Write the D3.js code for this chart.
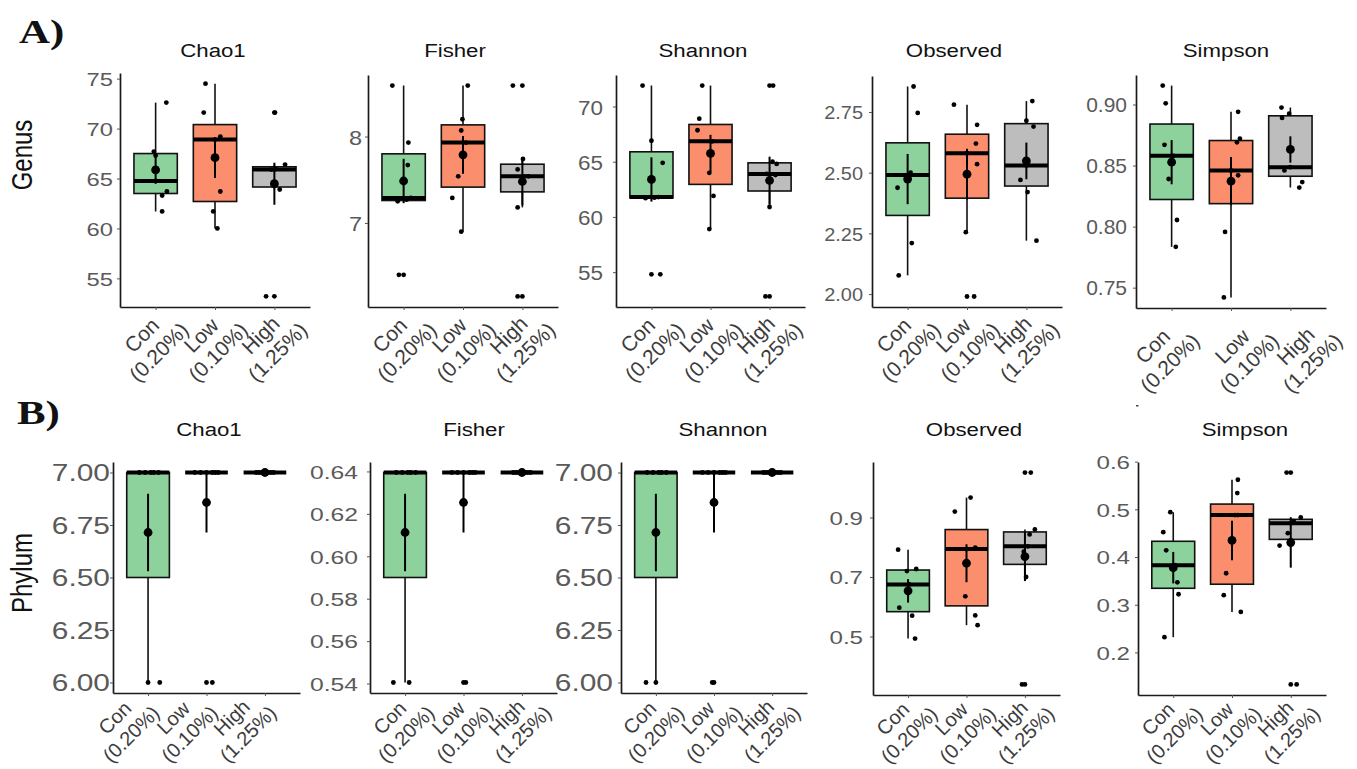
<!DOCTYPE html>
<html>
<head>
<meta charset="utf-8">
<script src="https://cdn.jsdelivr.net/npm/d3@7/dist/d3.min.js"></script>
<style>
  body { margin: 0; background: #fff; }
  svg { display: block; }
</style>
</head>
<body>
<div id="chart"></div>
<script>
const groups = ['Con', 'Low', 'High'];
const groupDoses = ['(0.20%)', '(0.10%)', '(1.25%)'];
const groupColors = ['#8dd29d', '#fb8e6c', '#bdbdbd'];

// seven samples per group
const genusChao1 = [
  [61.7, 63.3, 63.7, 64.75, 67.3, 67.7, 72.6],
  [60.0, 61.7, 63.7, 68.9, 69.2, 71.6, 74.5],
  [53.2, 63.9, 64.4, 65.9, 65.95, 66.4, 71.6],
];
const genusFisher = [
  [6.40, 7.25, 7.27, 7.29, 7.67, 7.93, 8.59],
  [6.90, 7.29, 7.54, 7.93, 8.07, 8.20, 8.59],
  [6.15, 7.18, 7.54, 7.54, 7.62, 7.74, 8.59],
];
const genusShannon = [
  [54.8, 61.7, 61.75, 61.8, 64.9, 66.9, 71.9],
  [58.9, 61.9, 64.0, 66.85, 67.85, 68.9, 71.9],
  [52.8, 60.9, 63.8, 63.9, 64.8, 65.0, 71.9],
];
const genusObserved = [
  [2.077, 2.21, 2.438, 2.49, 2.50, 2.746, 2.855],
  [1.99, 2.255, 2.535, 2.58, 2.62, 2.697, 2.78],
  [2.22, 2.42, 2.47, 2.53, 2.69, 2.714, 2.795],
];
const genusSimpson = [
  [0.7834, 0.8054, 0.839, 0.858, 0.867, 0.901, 0.9155],
  [0.742, 0.7956, 0.842, 0.846, 0.869, 0.872, 0.894],
  [0.832, 0.8365, 0.846, 0.8487, 0.889, 0.8925, 0.8975],
];
const phylumChao1 = [
  [6, 6, 7, 7, 7, 7, 7],
  [6, 7, 7, 7, 7, 7, 7],
  [7, 7, 7, 7, 7, 7, 7],
];
const phylumFisher = [
  [0.5405, 0.5405, 0.6395, 0.6395, 0.6395, 0.6395, 0.6395],
  [0.5405, 0.6395, 0.6395, 0.6395, 0.6395, 0.6395, 0.6395],
  [0.6395, 0.6395, 0.6395, 0.6395, 0.6395, 0.6395, 0.6395],
];
const phylumShannon = [
  [6, 6, 7, 7, 7, 7, 7],
  [6, 7, 7, 7, 7, 7, 7],
  [7, 7, 7, 7, 7, 7, 7],
];
const phylumObserved = [
  [0.493, 0.570, 0.597, 0.675, 0.720, 0.727, 0.792],
  [0.538, 0.571, 0.635, 0.794, 0.799, 0.920, 0.967],
  [0.339, 0.700, 0.785, 0.803, 0.843, 0.860, 1.051],
];
const phylumSimpson = [
  [0.232, 0.322, 0.347, 0.383, 0.414, 0.452, 0.494],
  [0.285, 0.320, 0.366, 0.488, 0.488, 0.534, 0.562],
  [0.133, 0.424, 0.450, 0.471, 0.475, 0.483, 0.577],
];

// horizontal jitter of each sample, in category steps
const genusChao1Jitter = [
  [0.11, 0.11, 0.19, 0.0, 0.0, -0.03, 0.18],
  [0.04, -0.03, 0.09, 0.0, 0.09, -0.19, -0.16],
  [-0.14, 0.09, 0.0, -0.05, 0.02, 0.18, 0.01],
];
const genusFisherJitter = [
  [-0.08, -0.1, 0.05, 0.12, 0.07, 0.08, -0.19],
  [-0.03, -0.18, -0.08, 0.05, -0.03, -0.01, 0.08],
  [-0.08, -0.08, 0.02, 0.1, -0.08, 0.01, -0.16],
];
const genusShannonJitter = [
  [0.15, -0.1, 0.05, 0.12, 0.19, 0.0, -0.15],
  [-0.02, 0.05, -0.02, 0.03, -0.22, -0.19, -0.14],
  [-0.07, 0.0, 0.1, -0.05, 0.12, 0.05, 0.06],
];
const genusObservedJitter = [
  [-0.15, 0.07, -0.17, 0.0, 0.05, 0.17, 0.1],
  [0.12, -0.02, 0.17, 0.0, 0.15, 0.17, -0.22],
  [0.17, 0.02, -0.1, 0.0, 0.12, 0.0, 0.1],
];
const genusSimpsonJitter = [
  [0.07, 0.09, -0.05, 0.03, -0.12, -0.1, -0.15],
  [-0.12, -0.1, 0.12, 0.0, 0.1, 0.15, 0.12],
  [0.15, 0.2, -0.1, 0.0, -0.14, -0.02, -0.15],
];
const phylumChao1Jitter = [
  [0.0, 0.2, -0.15, -0.05, 0.05, 0.1, 0.18],
  [0.1, -0.2, -0.1, 0.0, 0.1, 0.15, 0.2],
  [-0.15, -0.1, -0.05, 0.0, 0.05, 0.1, 0.15],
];
const phylumFisherJitter = [
  [-0.2, 0.07, -0.15, -0.05, 0.05, 0.1, 0.18],
  [0.04, -0.2, -0.1, 0.0, 0.1, 0.15, 0.2],
  [-0.15, -0.1, -0.05, 0.0, 0.05, 0.1, 0.15],
];
const phylumShannonJitter = [
  [-0.17, 0.0, -0.15, -0.05, 0.05, 0.1, 0.18],
  [-0.03, -0.2, -0.1, 0.0, 0.1, 0.15, 0.2],
  [-0.15, -0.1, -0.05, 0.0, 0.05, 0.1, 0.15],
];
const phylumObservedJitter = [
  [0.12, 0.07, -0.15, 0.02, -0.02, 0.14, -0.17],
  [0.19, 0.15, -0.02, 0.0, 0.15, -0.2, 0.07],
  [-0.05, 0.02, -0.02, 0.05, 0.08, 0.17, 0.1],
];
const phylumSimpsonJitter = [
  [-0.15, 0.09, 0.07, 0.03, -0.12, -0.17, -0.05],
  [0.15, -0.14, -0.1, 0.05, 0.1, 0.09, 0.1],
  [0.1, -0.19, -0.05, 0.0, 0.05, 0.17, -0.07],
];

const genusChao1Ticks = [55, 60, 65, 70, 75];
const genusFisherTicks = [7, 8];
const genusShannonTicks = [55, 60, 65, 70];
const genusObservedTicks = [2.0, 2.25, 2.5, 2.75];
const genusSimpsonTicks = [0.75, 0.8, 0.85, 0.9];
const phylumChao1Ticks = [6.0, 6.25, 6.5, 6.75, 7.0];
const phylumFisherTicks = [0.54, 0.56, 0.58, 0.6, 0.62, 0.64];
const phylumShannonTicks = [6.0, 6.25, 6.5, 6.75, 7.0];
const phylumObservedTicks = [0.5, 0.7, 0.9];
const phylumSimpsonTicks = [0.2, 0.3, 0.4, 0.5, 0.6];

const WIDTH = 1357;
const HEIGHT = 769;
const FONT = '"Liberation Sans", Arial, sans-serif';
const BOX_WIDTH = 0.73;
const POINT_R = 2.4;
const MEAN_R = 4.4;

const panels = [
  { title: 'Chao1', values: genusChao1, jitter: genusChao1Jitter, ticks: genusChao1Ticks, fmt: 'd',
    left: 120, right: 310, top: 73, bottom: 307, titleX: 213, titleY: 57,
    tickFont: 19, tickSx: 1.25, tickGap: 7, xFont: 21, xOff: [[3, 45]] },
  { title: 'Fisher', values: genusFisher, jitter: genusFisherJitter, ticks: genusFisherTicks, fmt: 'd',
    left: 368, right: 558, top: 75, bottom: 307, titleX: 455, titleY: 57,
    tickFont: 21, tickSx: 1.12, tickGap: 6, xFont: 21, xOff: [[3, 45]] },
  { title: 'Shannon', values: genusShannon, jitter: genusShannonJitter, ticks: genusShannonTicks, fmt: 'd',
    left: 616, right: 805, top: 75, bottom: 307, titleX: 703, titleY: 57,
    tickFont: 21, tickSx: 1.07, tickGap: 13, xFont: 21, xOff: [[3, 45]] },
  { title: 'Observed', values: genusObserved, jitter: genusObservedJitter, ticks: genusObservedTicks, fmt: '.2f',
    left: 872, right: 1062, top: 76, bottom: 307, titleX: 954, titleY: 57,
    tickFont: 19, tickSx: 1.05, tickGap: 9, xFont: 21, xOff: [[3, 45]] },
  { title: 'Simpson', values: genusSimpson, jitter: genusSimpsonJitter, ticks: genusSimpsonTicks, fmt: '.2f',
    left: 1136, right: 1326, top: 75, bottom: 308, titleX: 1226, titleY: 57,
    tickFont: 20, tickSx: 1.05, tickGap: 9, xFont: 21, xOff: [[-2, 55], [18, 55], [22, 55]] },
  { title: 'Chao1', values: phylumChao1, jitter: phylumChao1Jitter, ticks: phylumChao1Ticks, fmt: '.2f',
    left: 113, right: 300, top: 462, bottom: 693, titleX: 209, titleY: 436,
    tickFont: 23, tickSx: 1.3, tickGap: 3, xFont: 20, xOff: [[-17, 41]] },
  { title: 'Fisher', values: phylumFisher, jitter: phylumFisherJitter, ticks: phylumFisherTicks, fmt: '.2f',
    left: 370, right: 557, top: 462, bottom: 693, titleX: 474, titleY: 436,
    tickFont: 19, tickSx: 1.3, tickGap: 12, xFont: 20, xOff: [[1, 41]] },
  { title: 'Shannon', values: phylumShannon, jitter: phylumShannonJitter, ticks: phylumShannonTicks, fmt: '.2f',
    left: 621, right: 807, top: 462, bottom: 693, titleX: 723, titleY: 436,
    tickFont: 23, tickSx: 1.3, tickGap: 8, xFont: 20, xOff: [[0, 41]] },
  { title: 'Observed', values: phylumObserved, jitter: phylumObservedJitter, ticks: phylumObservedTicks, fmt: '.1f',
    left: 873, right: 1060, top: 462, bottom: 695, titleX: 974, titleY: 436,
    tickFont: 19, tickSx: 1.27, tickGap: 10, xFont: 20, xOff: [[1, 40]] },
  { title: 'Simpson', values: phylumSimpson, jitter: phylumSimpsonJitter, ticks: phylumSimpsonTicks, fmt: '.1f',
    left: 1138, right: 1326, top: 462, bottom: 695, titleX: 1245, titleY: 436,
    tickFont: 19, tickSx: 1.27, tickGap: 8, xFont: 20, xOff: [[1, 40]] },
];

const svg = d3.select('#chart')
  .append('svg')
  .attr('width', WIDTH)
  .attr('height', HEIGHT)
  .style('font-family', FONT);

drawRowLabels();
panels.forEach(drawPanel);

function drawRowLabels() {
  const labels = [
    { text: 'A)', x: 19, y: 43 },
    { text: 'B)', x: 17, y: 424 },
  ];
  labels.forEach((l) => {
    svg.append('text')
      .attr('transform', `translate(${l.x},${l.y}) scale(1.3,1)`)
      .attr('font-family', '"Liberation Serif", "Times New Roman", serif')
      .attr('font-weight', 'bold')
      .attr('font-size', 33)
      .attr('fill', '#111')
      .text(l.text);
  });

  const axisTitles = [
    { text: 'Genus', x: 22, y: 155 },
    { text: 'Phylum', x: 22, y: 573 },
  ];
  axisTitles.forEach((l) => {
    svg.append('text')
      .attr('transform', `translate(${l.x},${l.y}) scale(1.2,1) rotate(-90)`)
      .attr('text-anchor', 'middle')
      .attr('dominant-baseline', 'central')
      .attr('font-size', 24)
      .attr('fill', '#111')
      .text(l.text);
  });

  // stray mark left in the source figure
  svg.append('rect').attr('x', 1136).attr('y', 405).attr('width', 2.5).attr('height', 1.5).attr('fill', '#444');
}

function boxStats(values) {
  const sorted = values.slice().sort(d3.ascending);
  const q1 = d3.quantile(sorted, 0.25);
  const median = d3.quantile(sorted, 0.5);
  const q3 = d3.quantile(sorted, 0.75);
  const iqr = q3 - q1;
  const eps = 1e-9;
  const inside = sorted.filter((v) => v >= q1 - 1.5 * iqr - eps && v <= q3 + 1.5 * iqr + eps);
  const outliers = sorted.filter((v) => v < q1 - 1.5 * iqr - eps || v > q3 + 1.5 * iqr + eps);
  const mean = d3.mean(sorted);
  const se = (d3.deviation(sorted) || 0) / Math.sqrt(sorted.length);
  return { q1, median, q3, lo: d3.min(inside), hi: d3.max(inside), outliers, mean, se };
}

function drawPanel(p) {
  const stats = p.values.map(boxStats);
  const allValues = p.values.flat()
    .concat(stats.map((s) => s.mean - s.se))
    .concat(stats.map((s) => s.mean + s.se));
  const [minV, maxV] = d3.extent(allValues);
  const pad = (maxV - minV) * 0.05;

  const y = d3.scaleLinear().domain([minV - pad, maxV + pad]).range([p.bottom, p.top]);
  const x = d3.scalePoint().domain(groups).range([p.left, p.right]).padding(0.6);
  const step = x.step();
  const boxW = step * BOX_WIDTH;

  const g = svg.append('g');

  // title
  g.append('text')
    .attr('transform', `translate(${p.titleX},${p.titleY}) scale(1.17,1)`)
    .attr('text-anchor', 'middle')
    .attr('font-size', 19)
    .attr('fill', '#111')
    .text(p.title);

  // y axis
  const yAxis = g.append('g')
    .attr('transform', `translate(${p.left},0)`)
    .call(d3.axisLeft(y).tickValues(p.ticks).tickFormat(d3.format(p.fmt)).tickSize(3).tickSizeOuter(0));
  yAxis.select('.domain').attr('stroke', '#1a1a1a').attr('stroke-width', 1.7);
  yAxis.selectAll('.tick line').attr('stroke', '#555').attr('stroke-width', 1);
  yAxis.selectAll('.tick text')
    .attr('x', 0)
    .attr('dy', '0.36em')
    .attr('transform', `translate(${-p.tickGap},0) scale(${p.tickSx},1)`)
    .attr('font-family', FONT)
    .attr('font-size', p.tickFont)
    .attr('fill', '#5a5a5a');

  // x axis
  const xAxis = g.append('g')
    .attr('transform', `translate(0,${p.bottom})`)
    .call(d3.axisBottom(x).tickSize(3).tickSizeOuter(0).tickFormat(''));
  xAxis.select('.domain').attr('stroke', '#1a1a1a').attr('stroke-width', 1.7);
  xAxis.selectAll('.tick line').attr('stroke', '#555').attr('stroke-width', 1);

  const lineGap = p.xFont + 3;
  groups.forEach((grp, i) => {
    const off = p.xOff[i] || p.xOff[0];
    const cx = x(grp) + off[0];
    const cy = p.bottom + off[1];
    const lab = g.append('g').attr('transform', `translate(${cx},${cy}) rotate(-45)`);
    [groups[i], groupDoses[i]].forEach((t, k) => {
      lab.append('text')
        .attr('x', 0)
        .attr('y', k === 0 ? -lineGap : 0)
        .attr('text-anchor', 'middle')
        .attr('dominant-baseline', 'central')
        .attr('font-size', p.xFont)
        .attr('fill', '#3c3c3c')
        .text(t);
    });
  });

  // boxplots
  stats.forEach((s, i) => {
    const cx = x(groups[i]);
    g.append('line')
      .attr('x1', cx).attr('x2', cx)
      .attr('y1', y(s.q3)).attr('y2', y(s.hi))
      .attr('stroke', '#111').attr('stroke-width', 1.6);
    g.append('line')
      .attr('x1', cx).attr('x2', cx)
      .attr('y1', y(s.q1)).attr('y2', y(s.lo))
      .attr('stroke', '#111').attr('stroke-width', 1.6);
    g.append('rect')
      .attr('x', cx - boxW / 2)
      .attr('y', y(s.q3))
      .attr('width', boxW)
      .attr('height', Math.max(0, y(s.q1) - y(s.q3)))
      .attr('fill', groupColors[i])
      .attr('stroke', '#111')
      .attr('stroke-width', 1.6);
    g.append('line')
      .attr('x1', cx - boxW / 2).attr('x2', cx + boxW / 2)
      .attr('y1', y(s.median)).attr('y2', y(s.median))
      .attr('stroke', '#000').attr('stroke-width', 4);
    s.outliers.forEach((v) => {
      g.append('circle').attr('cx', cx).attr('cy', y(v)).attr('r', POINT_R).attr('fill', '#000');
    });
  });

  // jittered samples
  p.values.forEach((vals, i) => {
    vals.forEach((v, k) => {
      g.append('circle')
        .attr('cx', x(groups[i]) + p.jitter[i][k] * step)
        .attr('cy', y(v))
        .attr('r', POINT_R)
        .attr('fill', '#000');
    });
  });

  // mean +/- standard error
  stats.forEach((s, i) => {
    const cx = x(groups[i]);
    g.append('line')
      .attr('x1', cx).attr('x2', cx)
      .attr('y1', y(s.mean - s.se)).attr('y2', y(s.mean + s.se))
      .attr('stroke', '#000').attr('stroke-width', 2);
    g.append('circle').attr('cx', cx).attr('cy', y(s.mean)).attr('r', MEAN_R).attr('fill', '#000');
  });
}
</script>
</body>
</html>
